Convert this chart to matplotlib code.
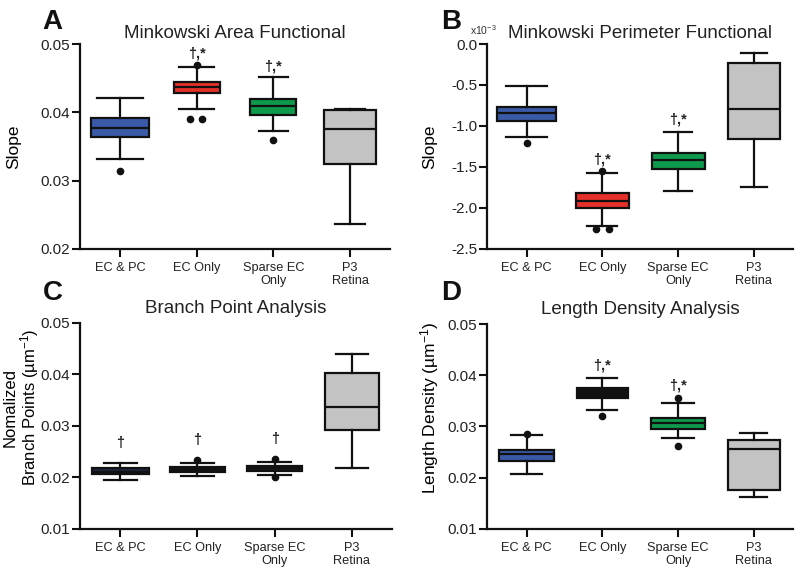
import numpy as np
import matplotlib.pyplot as plt

plt.rcParams['font.family'] = ['Liberation Sans', 'DejaVu Sans']
plt.rcParams['mathtext.fontset'] = 'custom'
plt.rcParams['mathtext.rm'] = 'Liberation Sans'
plt.rcParams['mathtext.it'] = 'Liberation Sans:italic'
plt.rcParams['text.color'] = '#222222'

# ──────────────────────────────────────────────
#  DATOS
# ──────────────────────────────────────────────
grupos = ["EC & PC", "EC Only", "Sparse EC\nOnly", "P3\nRetina"]

# A: Minkowski Area Functional (pendiente)
area_whislo = [0.0332, 0.0405, 0.0372, 0.0237]
area_q1     = [0.0364, 0.0428, 0.0396, 0.0324]
area_med    = [0.03775, 0.04375, 0.0409, 0.0375]
area_q3     = [0.0391, 0.0445, 0.04195, 0.0404]
area_whishi = [0.0421, 0.0466, 0.0451, 0.0405]
area_fliers = [[0.0314], [0.0470, 0.0390, 0.0390], [0.0359], []]
area_marcas = ["", "†,*", "†,*", ""]

# B: Minkowski Perimeter Functional (x10^-3)
perim_whislo = [-1.14, -2.22, -1.79, -1.74]
perim_q1     = [-0.94, -2.00, -1.53, -1.16]
perim_med    = [-0.84, -1.91, -1.42, -0.79]
perim_q3     = [-0.765, -1.82, -1.335, -0.23]
perim_whishi = [-0.51, -1.57, -1.07, -0.11]
perim_fliers = [[-1.21], [-1.555, -2.26, -2.26], [], []]
perim_marcas = ["", "†,*", "†,*", ""]

# C: Branch Point Analysis
rama_whislo = [0.0195, 0.0202, 0.0204, 0.0218]
rama_q1     = [0.0206, 0.0210, 0.0211, 0.0291]
rama_med    = [0.0210, 0.02155, 0.0217, 0.0337]
rama_q3     = [0.0217, 0.0220, 0.0221, 0.0403]
rama_whishi = [0.0228, 0.0228, 0.0229, 0.0440]
rama_fliers = [[], [0.0233], [0.0236, 0.0200], []]
rama_marcas = ["†", "†", "†", ""]

# D: Length Density Analysis
dens_whislo = [0.0207, 0.0332, 0.0277, 0.0162]
dens_q1     = [0.0233, 0.0355, 0.0296, 0.0177]
dens_med    = [0.0246, 0.0364, 0.0307, 0.0257]
dens_q3     = [0.0254, 0.0375, 0.0317, 0.0274]
dens_whishi = [0.0283, 0.0394, 0.0345, 0.0288]
dens_fliers = [[0.0285], [0.0320], [0.0355, 0.0262], []]
dens_marcas = ["", "†,*", "†,*", ""]

AZUL = "#3a5aa8"
ROJO = "#e8302a"
VERDE = "#0e9a4c"
GRIS = "#c3c3c3"
NEGRO = "#111111"


def dibujar_panel(ax, whislo, q1, med, q3, whishi, fliers, colores,
                  marcas, ylim, yticks, ytick_fmt, titulo, ylabel,
                  marca_offset, anchos, tapas, desplaz=None, title_pad=4,
                  ylabel_size=12.5):
    stats = []
    for i in range(len(grupos)):
        stats.append(dict(whislo=whislo[i], q1=q1[i], med=med[i], q3=q3[i],
                          whishi=whishi[i], fliers=[], label=grupos[i]))
    pos = np.arange(1, len(grupos) + 1)
    bp = ax.bxp(stats, positions=pos, widths=anchos, capwidths=tapas,
                patch_artist=True, showfliers=False,
                boxprops=dict(linewidth=1.6, edgecolor=NEGRO),
                medianprops=dict(color=NEGRO, linewidth=1.6),
                whiskerprops=dict(color=NEGRO, linewidth=1.6),
                capprops=dict(color=NEGRO, linewidth=1.6))
    for caja, c in zip(bp["boxes"], colores):
        caja.set_facecolor(c)

    # atípicos (los repetidos se separan un poco en x)
    for i, fl in enumerate(fliers):
        for j, v in enumerate(fl):
            dx = desplaz[i][j] if desplaz and desplaz[i] else 0.0
            ax.plot(pos[i] + dx, v, "o", color=NEGRO, markersize=4.5,
                    zorder=4)

    for i, m in enumerate(marcas):
        if m:
            tope = max([whishi[i]] + fliers[i])
            ax.text(pos[i], tope + marca_offset, m, ha="center", va="bottom",
                    fontsize=10.5, fontweight="bold", color="#222222")

    ax.set_xlim(0.48, 4.52)
    ax.set_ylim(*ylim)
    ax.set_yticks(yticks)
    ax.set_yticklabels([ytick_fmt.format(v) for v in yticks])
    ax.set_xticks(pos)
    ax.set_xticklabels(grupos, fontsize=9.2, linespacing=1.1)
    ax.tick_params(axis="y", labelsize=11, length=6, width=1.5, pad=1,
                   colors=NEGRO, labelcolor="#222222")
    ax.tick_params(axis="x", length=6, width=1.5, colors=NEGRO,
                   labelcolor="#222222")
    for s in ["top", "right"]:
        ax.spines[s].set_visible(False)
    for s in ["left", "bottom"]:
        ax.spines[s].set_linewidth(1.6)
        ax.spines[s].set_color(NEGRO)
    ax.set_title(titulo, fontsize=13.5, pad=title_pad)
    ax.set_ylabel(ylabel, fontsize=ylabel_size, linespacing=1.05)


fig = plt.figure(figsize=(8, 5.79), dpi=100)

ax_a = fig.add_axes([0.100, 0.570, 0.3875, 0.354])
ax_b = fig.add_axes([0.609, 0.570, 0.3825, 0.354])
ax_c = fig.add_axes([0.100, 0.0872, 0.390, 0.355])
ax_d = fig.add_axes([0.609, 0.0864, 0.3825, 0.354])

dibujar_panel(ax_a, area_whislo, area_q1, area_med, area_q3, area_whishi,
              area_fliers, [AZUL, ROJO, VERDE, GRIS], area_marcas,
              (0.02, 0.05), [0.02, 0.03, 0.04, 0.05], "{:.2f}",
              "Minkowski Area Functional", "Slope", 0.0006,
              [0.76, 0.6, 0.6, 0.68], [0.6, 0.46, 0.38, 0.4],
              desplaz=[None, [0.0, -0.09, 0.07], None, None])
ax_a.yaxis.set_label_coords(-0.19, 0.5)

dibujar_panel(ax_b, perim_whislo, perim_q1, perim_med, perim_q3, perim_whishi,
              perim_fliers, [AZUL, ROJO, VERDE, GRIS], perim_marcas,
              (-2.5, 0.0), [-2.5, -2.0, -1.5, -1.0, -0.5, 0.0], "{:.1f}",
              "Minkowski Perimeter Functional", "Slope", 0.06,
              [0.78, 0.7, 0.7, 0.68], [0.54, 0.4, 0.37, 0.34],
              desplaz=[None, [0.0, -0.08, 0.09], None, None])
ax_b.yaxis.set_label_coords(-0.163, 0.5)
ax_b.text(-0.055, 1.035, r"x10$^{-3}$", transform=ax_b.transAxes,
          fontsize=7.5, ha="left", va="bottom", color="#333333")

dibujar_panel(ax_c, rama_whislo, rama_q1, rama_med, rama_q3, rama_whishi,
              rama_fliers, ["#1c2540", NEGRO, "#0f1c14", GRIS], rama_marcas,
              (0.01, 0.05), [0.01, 0.02, 0.03, 0.04, 0.05], "{:.2f}",
              "Branch Point Analysis",
              "Nomalized\nBranch Points (µm$^{-1}$)", 0.0025,
              [0.74, 0.72, 0.72, 0.7], [0.43, 0.42, 0.42, 0.42],
              title_pad=7, ylabel_size=12)
ax_c.yaxis.set_label_coords(-0.125, 0.59)

dibujar_panel(ax_d, dens_whislo, dens_q1, dens_med, dens_q3, dens_whishi,
              dens_fliers, [AZUL, NEGRO, VERDE, GRIS], dens_marcas,
              (0.01, 0.05), [0.01, 0.02, 0.03, 0.04, 0.05], "{:.2f}",
              "Length Density Analysis", "Length Density (µm$^{-1}$)",
              0.0012, [0.73, 0.68, 0.71, 0.68], [0.42, 0.4, 0.42, 0.36],
              title_pad=7)
ax_d.yaxis.set_label_coords(-0.15, 0.59)

# Letras de los paneles
for letra, x, y in [("A", 0.053, 0.950), ("B", 0.551, 0.950),
                    ("C", 0.053, 0.482), ("D", 0.551, 0.482)]:
    fig.text(x, y, letra, fontsize=20, fontweight="bold", color=NEGRO,
             ha="left", va="baseline")

fig.savefig("out.png", dpi=100)
